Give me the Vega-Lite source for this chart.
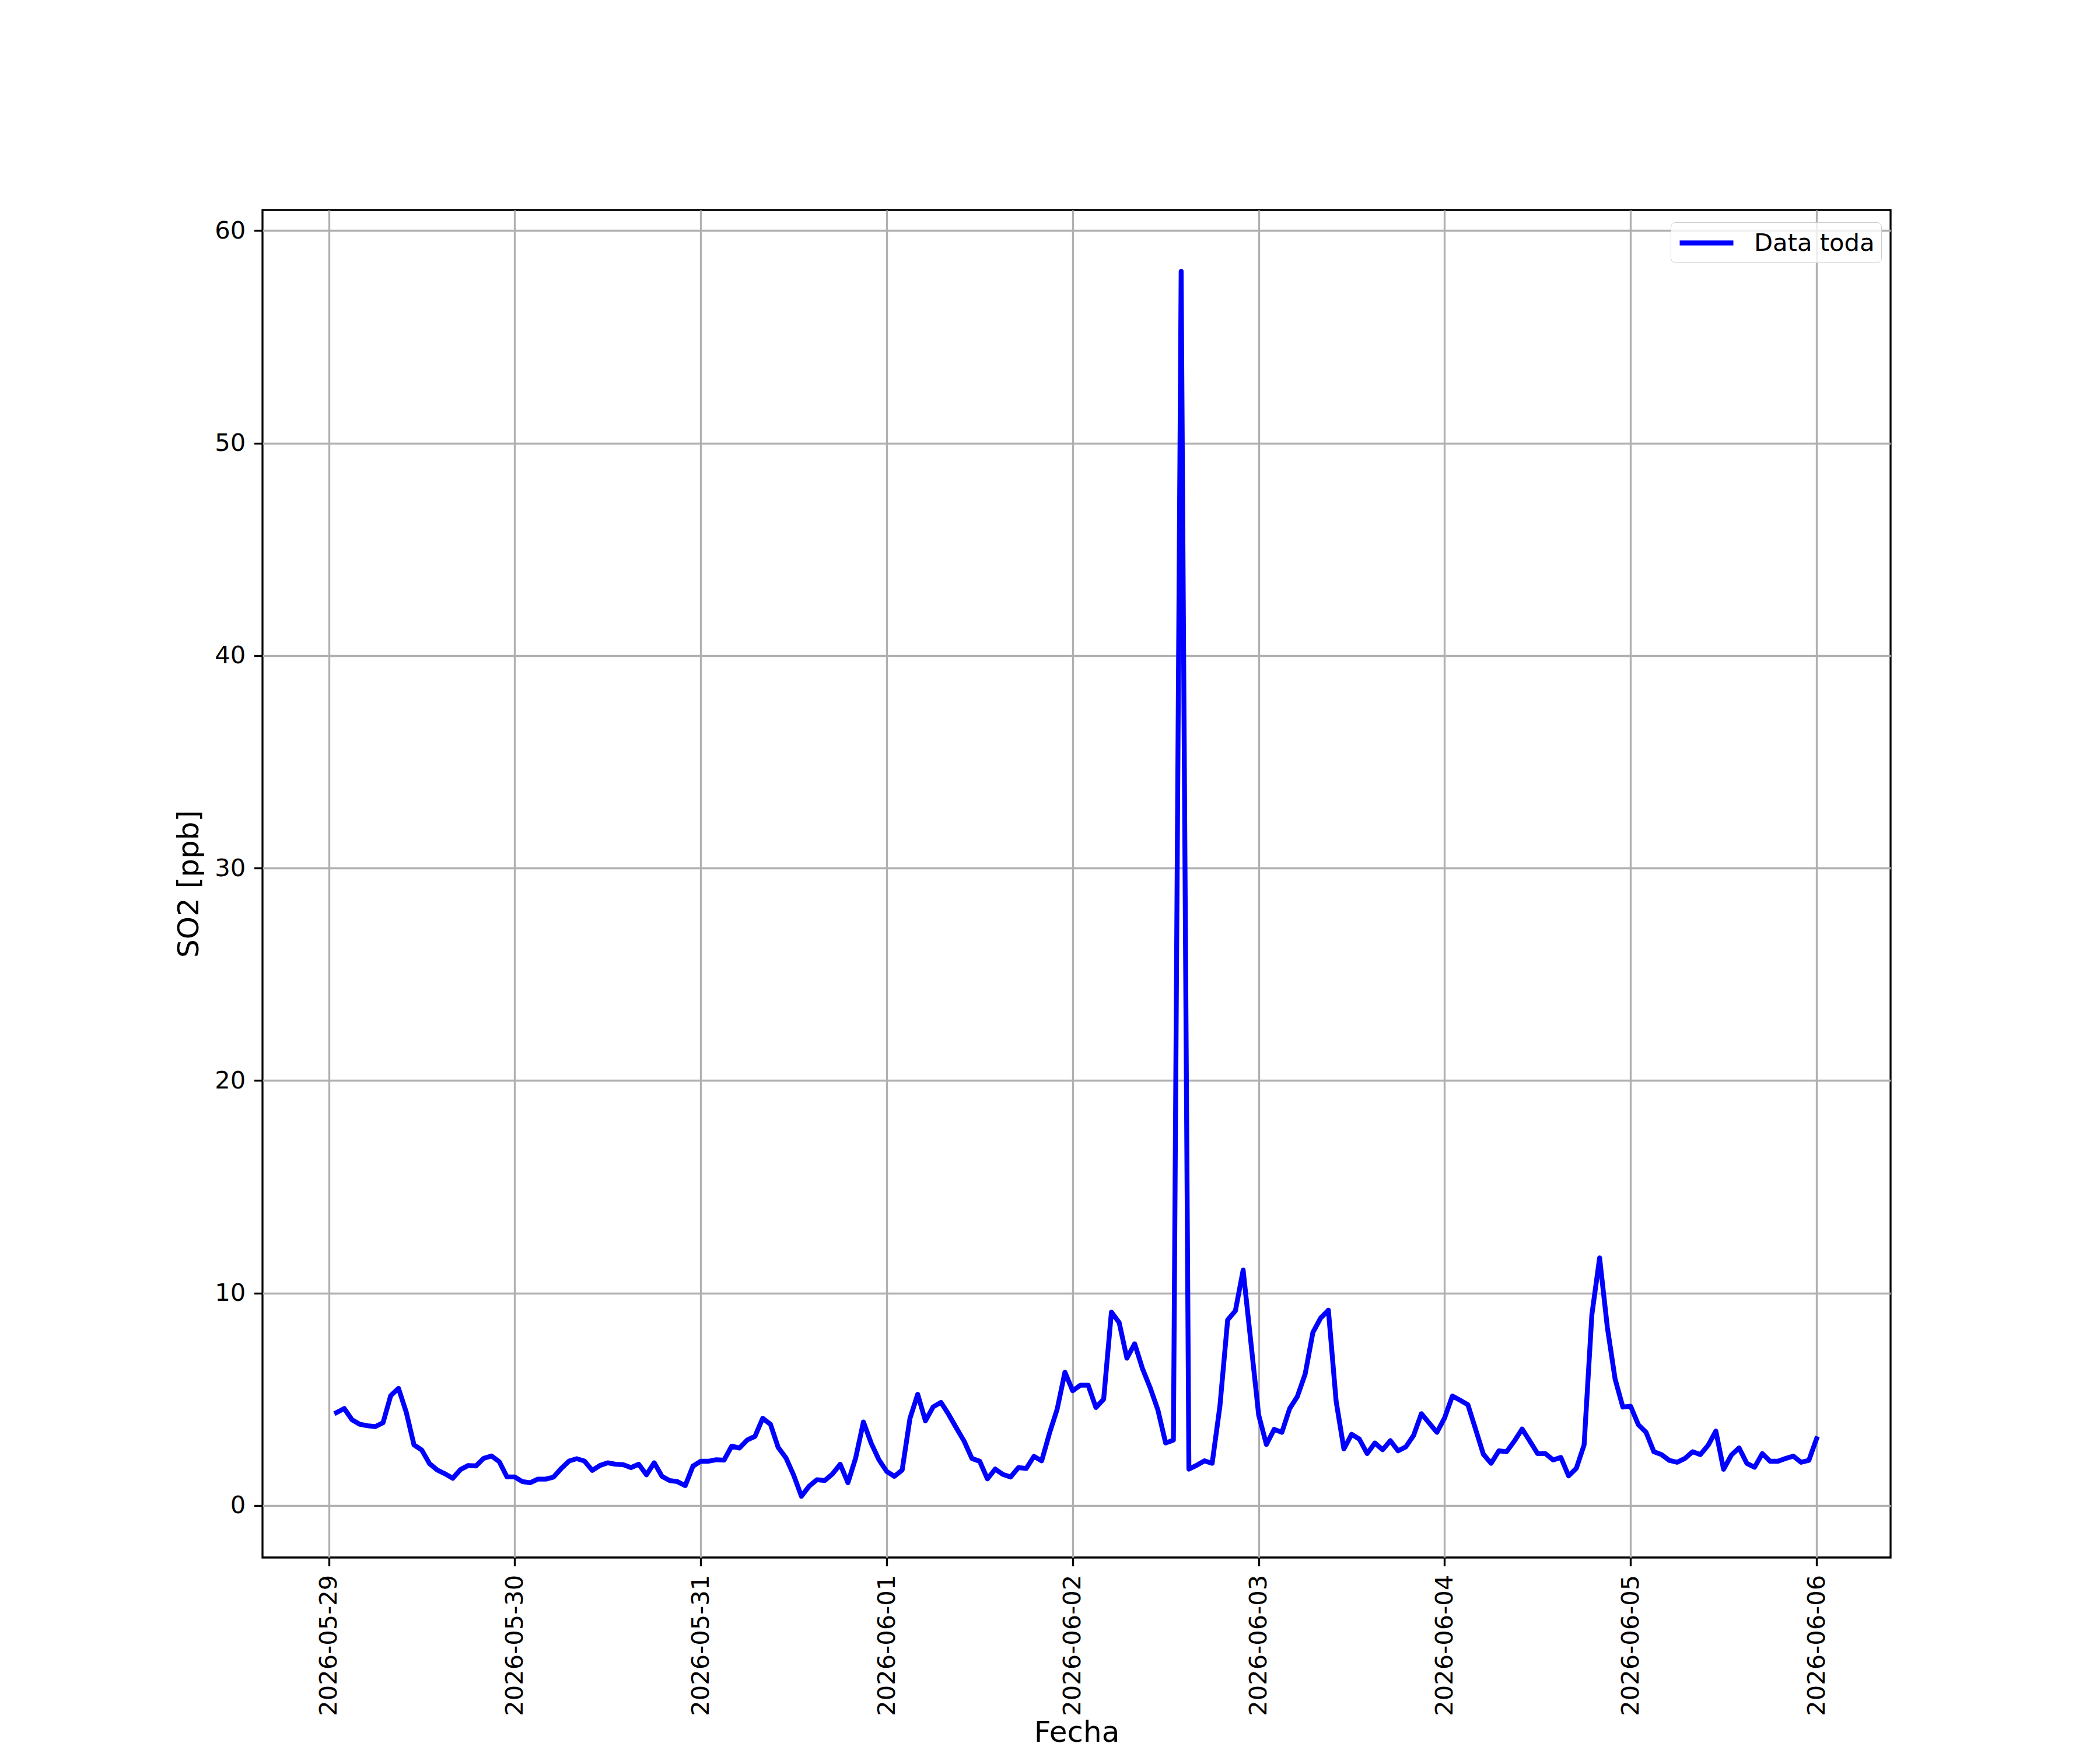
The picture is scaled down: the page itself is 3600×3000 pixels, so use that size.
{
  "$schema": "https://vega.github.io/schema/vega-lite/v6.json",
  "width": 2791,
  "height": 2310,
  "autosize": {"type": "none"},
  "padding": {"left": 450, "top": 360, "right": 359, "bottom": 330},
  "background": "white",
  "data": {
    "values": [
      {"t": "2026-05-29T01:00", "v": 4.37}, {"t": "2026-05-29T02:00", "v": 4.56}, {"t": "2026-05-29T03:00", "v": 4.03},
      {"t": "2026-05-29T04:00", "v": 3.82}, {"t": "2026-05-29T05:00", "v": 3.75}, {"t": "2026-05-29T06:00", "v": 3.71},
      {"t": "2026-05-29T07:00", "v": 3.89}, {"t": "2026-05-29T08:00", "v": 5.17}, {"t": "2026-05-29T09:00", "v": 5.51},
      {"t": "2026-05-29T10:00", "v": 4.39}, {"t": "2026-05-29T11:00", "v": 2.85}, {"t": "2026-05-29T12:00", "v": 2.61},
      {"t": "2026-05-29T13:00", "v": 1.97}, {"t": "2026-05-29T14:00", "v": 1.67}, {"t": "2026-05-29T15:00", "v": 1.49},
      {"t": "2026-05-29T16:00", "v": 1.28}, {"t": "2026-05-29T17:00", "v": 1.69}, {"t": "2026-05-29T18:00", "v": 1.88},
      {"t": "2026-05-29T19:00", "v": 1.86}, {"t": "2026-05-29T20:00", "v": 2.22}, {"t": "2026-05-29T21:00", "v": 2.33},
      {"t": "2026-05-29T22:00", "v": 2.06}, {"t": "2026-05-29T23:00", "v": 1.34},
      {"t": "2026-05-30T00:00", "v": 1.34}, {"t": "2026-05-30T01:00", "v": 1.12}, {"t": "2026-05-30T02:00", "v": 1.07},
      {"t": "2026-05-30T03:00", "v": 1.24}, {"t": "2026-05-30T04:00", "v": 1.24}, {"t": "2026-05-30T05:00", "v": 1.33},
      {"t": "2026-05-30T06:00", "v": 1.74}, {"t": "2026-05-30T07:00", "v": 2.09}, {"t": "2026-05-30T08:00", "v": 2.2},
      {"t": "2026-05-30T09:00", "v": 2.09}, {"t": "2026-05-30T10:00", "v": 1.65}, {"t": "2026-05-30T11:00", "v": 1.88},
      {"t": "2026-05-30T12:00", "v": 2.01}, {"t": "2026-05-30T13:00", "v": 1.94}, {"t": "2026-05-30T14:00", "v": 1.92},
      {"t": "2026-05-30T15:00", "v": 1.78}, {"t": "2026-05-30T16:00", "v": 1.94}, {"t": "2026-05-30T17:00", "v": 1.44},
      {"t": "2026-05-30T18:00", "v": 2.01}, {"t": "2026-05-30T19:00", "v": 1.37}, {"t": "2026-05-30T20:00", "v": 1.17},
      {"t": "2026-05-30T21:00", "v": 1.12}, {"t": "2026-05-30T22:00", "v": 0.93}, {"t": "2026-05-30T23:00", "v": 1.85},
      {"t": "2026-05-31T00:00", "v": 2.08}, {"t": "2026-05-31T01:00", "v": 2.08}, {"t": "2026-05-31T02:00", "v": 2.15},
      {"t": "2026-05-31T03:00", "v": 2.13}, {"t": "2026-05-31T04:00", "v": 2.79}, {"t": "2026-05-31T05:00", "v": 2.7},
      {"t": "2026-05-31T06:00", "v": 3.08}, {"t": "2026-05-31T07:00", "v": 3.25}, {"t": "2026-05-31T08:00", "v": 4.1},
      {"t": "2026-05-31T09:00", "v": 3.82}, {"t": "2026-05-31T10:00", "v": 2.73}, {"t": "2026-05-31T11:00", "v": 2.24},
      {"t": "2026-05-31T12:00", "v": 1.42}, {"t": "2026-05-31T13:00", "v": 0.43}, {"t": "2026-05-31T14:00", "v": 0.91},
      {"t": "2026-05-31T15:00", "v": 1.21}, {"t": "2026-05-31T16:00", "v": 1.17}, {"t": "2026-05-31T17:00", "v": 1.48},
      {"t": "2026-05-31T18:00", "v": 1.94}, {"t": "2026-05-31T19:00", "v": 1.07}, {"t": "2026-05-31T20:00", "v": 2.24},
      {"t": "2026-05-31T21:00", "v": 3.93}, {"t": "2026-05-31T22:00", "v": 2.93}, {"t": "2026-05-31T23:00", "v": 2.15},
      {"t": "2026-06-01T00:00", "v": 1.6}, {"t": "2026-06-01T01:00", "v": 1.37}, {"t": "2026-06-01T02:00", "v": 1.67},
      {"t": "2026-06-01T03:00", "v": 4.09}, {"t": "2026-06-01T04:00", "v": 5.23}, {"t": "2026-06-01T05:00", "v": 3.98},
      {"t": "2026-06-01T06:00", "v": 4.64}, {"t": "2026-06-01T07:00", "v": 4.85}, {"t": "2026-06-01T08:00", "v": 4.28},
      {"t": "2026-06-01T09:00", "v": 3.64}, {"t": "2026-06-01T10:00", "v": 3.02}, {"t": "2026-06-01T11:00", "v": 2.21},
      {"t": "2026-06-01T12:00", "v": 2.08}, {"t": "2026-06-01T13:00", "v": 1.25}, {"t": "2026-06-01T14:00", "v": 1.71},
      {"t": "2026-06-01T15:00", "v": 1.46}, {"t": "2026-06-01T16:00", "v": 1.34}, {"t": "2026-06-01T17:00", "v": 1.78},
      {"t": "2026-06-01T18:00", "v": 1.74}, {"t": "2026-06-01T19:00", "v": 2.31}, {"t": "2026-06-01T20:00", "v": 2.1},
      {"t": "2026-06-01T21:00", "v": 3.39}, {"t": "2026-06-01T22:00", "v": 4.53}, {"t": "2026-06-01T23:00", "v": 6.27},
      {"t": "2026-06-02T00:00", "v": 5.4}, {"t": "2026-06-02T01:00", "v": 5.66}, {"t": "2026-06-02T02:00", "v": 5.66},
      {"t": "2026-06-02T03:00", "v": 4.61}, {"t": "2026-06-02T04:00", "v": 5.0}, {"t": "2026-06-02T05:00", "v": 9.1},
      {"t": "2026-06-02T06:00", "v": 8.61}, {"t": "2026-06-02T07:00", "v": 6.93}, {"t": "2026-06-02T08:00", "v": 7.61},
      {"t": "2026-06-02T09:00", "v": 6.45}, {"t": "2026-06-02T10:00", "v": 5.54}, {"t": "2026-06-02T11:00", "v": 4.49},
      {"t": "2026-06-02T12:00", "v": 2.94}, {"t": "2026-06-02T13:00", "v": 3.07}, {"t": "2026-06-02T14:00", "v": 58.08},
      {"t": "2026-06-02T15:00", "v": 1.71}, {"t": "2026-06-02T16:00", "v": 1.89}, {"t": "2026-06-02T17:00", "v": 2.1},
      {"t": "2026-06-02T18:00", "v": 1.98}, {"t": "2026-06-02T19:00", "v": 4.67}, {"t": "2026-06-02T20:00", "v": 8.73},
      {"t": "2026-06-02T21:00", "v": 9.16}, {"t": "2026-06-02T22:00", "v": 11.08}, {"t": "2026-06-02T23:00", "v": 7.67},
      {"t": "2026-06-03T00:00", "v": 4.26}, {"t": "2026-06-03T01:00", "v": 2.87}, {"t": "2026-06-03T02:00", "v": 3.58},
      {"t": "2026-06-03T03:00", "v": 3.44}, {"t": "2026-06-03T04:00", "v": 4.56}, {"t": "2026-06-03T05:00", "v": 5.13},
      {"t": "2026-06-03T06:00", "v": 6.18}, {"t": "2026-06-03T07:00", "v": 8.14}, {"t": "2026-06-03T08:00", "v": 8.82},
      {"t": "2026-06-03T09:00", "v": 9.19}, {"t": "2026-06-03T10:00", "v": 4.9}, {"t": "2026-06-03T11:00", "v": 2.66},
      {"t": "2026-06-03T12:00", "v": 3.35}, {"t": "2026-06-03T13:00", "v": 3.12}, {"t": "2026-06-03T14:00", "v": 2.44},
      {"t": "2026-06-03T15:00", "v": 2.94}, {"t": "2026-06-03T16:00", "v": 2.62}, {"t": "2026-06-03T17:00", "v": 3.05},
      {"t": "2026-06-03T18:00", "v": 2.57}, {"t": "2026-06-03T19:00", "v": 2.76}, {"t": "2026-06-03T20:00", "v": 3.3},
      {"t": "2026-06-03T21:00", "v": 4.32}, {"t": "2026-06-03T22:00", "v": 3.88}, {"t": "2026-06-03T23:00", "v": 3.44},
      {"t": "2026-06-04T00:00", "v": 4.12}, {"t": "2026-06-04T01:00", "v": 5.15}, {"t": "2026-06-04T02:00", "v": 4.95},
      {"t": "2026-06-04T03:00", "v": 4.74}, {"t": "2026-06-04T04:00", "v": 3.58}, {"t": "2026-06-04T05:00", "v": 2.41},
      {"t": "2026-06-04T06:00", "v": 1.98}, {"t": "2026-06-04T07:00", "v": 2.57}, {"t": "2026-06-04T08:00", "v": 2.53},
      {"t": "2026-06-04T09:00", "v": 3.03}, {"t": "2026-06-04T10:00", "v": 3.6}, {"t": "2026-06-04T11:00", "v": 3.03},
      {"t": "2026-06-04T12:00", "v": 2.44}, {"t": "2026-06-04T13:00", "v": 2.44}, {"t": "2026-06-04T14:00", "v": 2.14},
      {"t": "2026-06-04T15:00", "v": 2.26}, {"t": "2026-06-04T16:00", "v": 1.39}, {"t": "2026-06-04T17:00", "v": 1.75},
      {"t": "2026-06-04T18:00", "v": 2.85}, {"t": "2026-06-04T19:00", "v": 8.97}, {"t": "2026-06-04T20:00", "v": 11.65},
      {"t": "2026-06-04T21:00", "v": 8.38}, {"t": "2026-06-04T22:00", "v": 5.95}, {"t": "2026-06-04T23:00", "v": 4.63},
      {"t": "2026-06-05T00:00", "v": 4.67}, {"t": "2026-06-05T01:00", "v": 3.8}, {"t": "2026-06-05T02:00", "v": 3.44},
      {"t": "2026-06-05T03:00", "v": 2.53}, {"t": "2026-06-05T04:00", "v": 2.39}, {"t": "2026-06-05T05:00", "v": 2.12},
      {"t": "2026-06-05T06:00", "v": 2.03}, {"t": "2026-06-05T07:00", "v": 2.21}, {"t": "2026-06-05T08:00", "v": 2.53},
      {"t": "2026-06-05T09:00", "v": 2.39}, {"t": "2026-06-05T10:00", "v": 2.83}, {"t": "2026-06-05T11:00", "v": 3.5},
      {"t": "2026-06-05T12:00", "v": 1.7}, {"t": "2026-06-05T13:00", "v": 2.37}, {"t": "2026-06-05T14:00", "v": 2.71},
      {"t": "2026-06-05T15:00", "v": 1.98}, {"t": "2026-06-05T16:00", "v": 1.8}, {"t": "2026-06-05T17:00", "v": 2.44},
      {"t": "2026-06-05T18:00", "v": 2.08}, {"t": "2026-06-05T19:00", "v": 2.08}, {"t": "2026-06-05T20:00", "v": 2.21},
      {"t": "2026-06-05T21:00", "v": 2.32}, {"t": "2026-06-05T22:00", "v": 2.03}, {"t": "2026-06-05T23:00", "v": 2.12},
      {"t": "2026-06-06T00:00", "v": 3.14}
    ]
  },
  "mark": {"type": "line", "strokeWidth": 8.33, "strokeJoin": "round", "strokeCap": "square"},
  "encoding": {
    "x": {
      "field": "t",
      "type": "temporal",
      "title": "Fecha",
      "scale": {
        "domain": [
          {"year": 2026, "month": 5, "date": 28, "hours": 15, "minutes": 27},
          {"year": 2026, "month": 6, "date": 6, "hours": 9, "minutes": 33}
        ],
        "nice": false
      },
      "axis": {
        "format": "%Y-%m-%d",
        "tickCount": {"interval": "day", "step": 1},
        "labelAngle": 270,
        "labelAlign": "right",
        "labelBaseline": "middle",
        "labelOverlap": false,
        "labelFlush": false,
        "labelLimit": 0,
        "titleX": 1395.5,
        "titleY": 315,
        "titleAlign": "center",
        "titleBaseline": "alphabetic"
      }
    },
    "y": {
      "field": "v",
      "type": "quantitative",
      "title": "SO2 [ppb]",
      "scale": {"domain": [-2.45, 60.97], "nice": false, "zero": false},
      "axis": {
        "values": [0, 10, 20, 30, 40, 50, 60],
        "titleX": -111,
        "titleY": 1155,
        "titleAngle": 270,
        "titleAlign": "center",
        "titleBaseline": "alphabetic"
      }
    },
    "color": {
      "datum": "Data toda",
      "type": "nominal",
      "scale": {"range": ["#0000ff"]},
      "legend": {
        "title": null,
        "orient": "none",
        "legendX": 2414,
        "legendY": 21,
        "fillColor": "rgba(255,255,255,0.8)",
        "strokeColor": "#cccccc",
        "cornerRadius": 8,
        "padding": 11,
        "symbolType": "M-1,0H3.6",
        "symbolSize": 1600,
        "symbolStrokeWidth": 8.33,
        "labelFontSize": 41.67,
        "labelFont": "DejaVu Sans",
        "labelColor": "black",
        "labelLimit": 0,
        "labelOffset": 83
      }
    }
  },
  "config": {
    "view": {"stroke": "black", "strokeWidth": 3.33},
    "font": "DejaVu Sans",
    "axis": {
      "domain": false,
      "grid": true,
      "gridColor": "#b0b0b0",
      "gridWidth": 3.33,
      "ticks": true,
      "tickColor": "black",
      "tickSize": 14.6,
      "tickWidth": 3.33,
      "labelFont": "DejaVu Sans",
      "labelFontSize": 41.67,
      "labelColor": "black",
      "labelPadding": 14.6,
      "titleFont": "DejaVu Sans",
      "titleFontSize": 50,
      "titleFontWeight": "normal",
      "titleColor": "black"
    }
  }
}
